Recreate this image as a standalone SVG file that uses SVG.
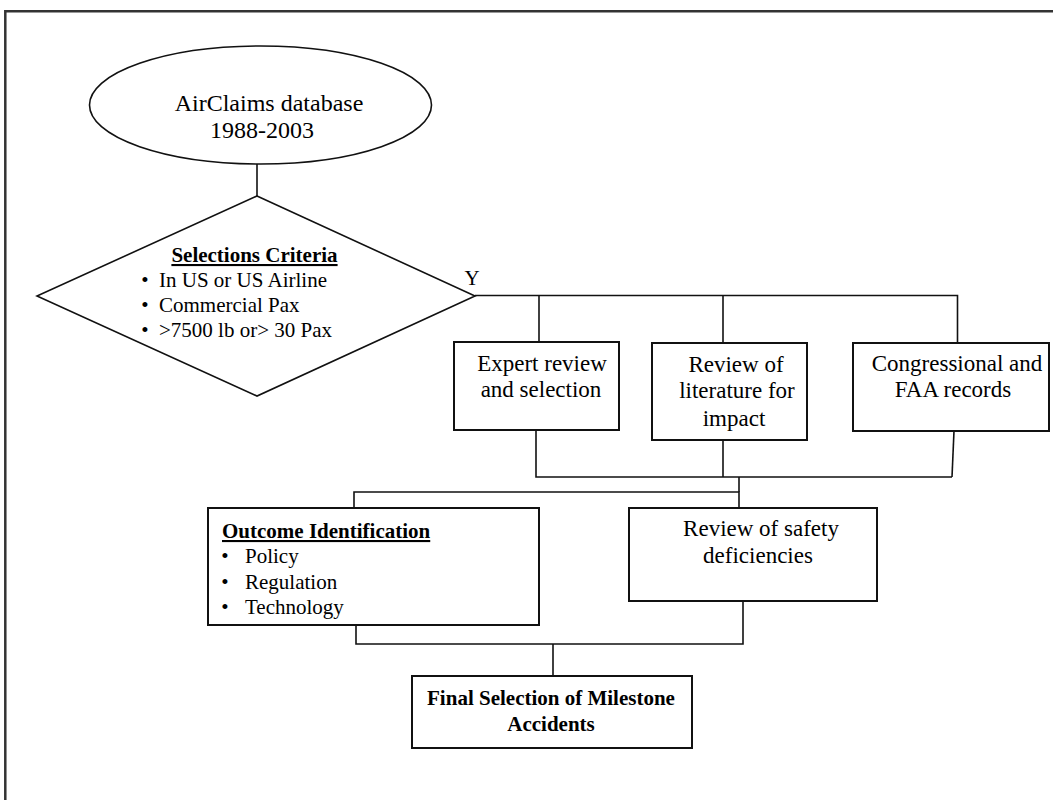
<svg xmlns="http://www.w3.org/2000/svg" width="1053" height="800" viewBox="0 0 1053 800">
  <style>
    text { font-family: "Liberation Serif", "Times New Roman", serif; fill: #000; }
    .t23 { font-size: 23px; }
    .t24 { font-size: 24px; }
    .t21 { font-size: 21px; }
    .b { font-weight: bold; }
    .u { text-decoration: underline; }
    .box { fill: #fff; stroke: #111; stroke-width: 2; }
    .shape { fill: #fff; stroke: #111; stroke-width: 1.6; }
    .conn { fill: none; stroke: #111; stroke-width: 1.6; }
    .frame { fill: none; stroke: #333; stroke-width: 2.5; }
  </style>

  <rect width="1053" height="800" fill="#fff"/>
  <path class="frame" d="M5.3,800 V11.3 H1053"/>

  <g id="connectors">
    <path class="conn" d="M257,164 V196"/>
    <path class="conn" d="M475,295.5 H957.5 V343"/>
    <path class="conn" d="M539,295.5 V342"/>
    <path class="conn" d="M723,295.5 V343"/>
    <path class="conn" d="M536,430 V477 H952"/>
    <path class="conn" d="M723,440 V477"/>
    <path class="conn" d="M954,431 L952,477"/>
    <path class="conn" d="M739,477 V492"/>
    <path class="conn" d="M354,508 V492 H739 V508"/>
    <path class="conn" d="M356,625 V644 H743 V601"/>
    <path class="conn" d="M553,644 V676"/>
  </g>

  <g id="airclaims">
    <ellipse class="shape" cx="260.5" cy="105" rx="171" ry="59"/>
    <text class="t24" x="269" y="111" text-anchor="middle">AirClaims database</text>
    <text class="t24" x="262" y="138" text-anchor="middle">1988-2003</text>
  </g>

  <g id="selection-criteria">
    <polygon class="shape" points="257,196 475,296 257,396 37,296"/>
    <text class="t21 b u" x="254.5" y="262" text-anchor="middle">Selections Criteria</text>
    <text class="t21" x="145" y="287" text-anchor="middle">•</text>
    <text class="t21" x="159" y="287">In US or US Airline</text>
    <text class="t21" x="145" y="312" text-anchor="middle">•</text>
    <text class="t21" x="159" y="312">Commercial Pax</text>
    <text class="t21" x="145" y="337" text-anchor="middle">•</text>
    <text class="t21" x="159" y="337">&gt;7500 lb or&gt; 30 Pax</text>
    <text class="t21" x="472" y="285" text-anchor="middle">Y</text>
  </g>

  <g id="expert-review">
    <rect class="box" x="454" y="342" width="165" height="88"/>
    <text class="t23" x="542" y="371" text-anchor="middle">Expert review</text>
    <text class="t23" x="541" y="397" text-anchor="middle">and selection</text>
  </g>

  <g id="literature-review">
    <rect class="box" x="652" y="343" width="155" height="97"/>
    <text class="t23" x="736" y="372" text-anchor="middle">Review of</text>
    <text class="t23" x="737" y="398" text-anchor="middle">literature for</text>
    <text class="t23" x="734" y="426" text-anchor="middle">impact</text>
  </g>

  <g id="congressional">
    <rect class="box" x="853" y="343" width="196" height="88"/>
    <text class="t23" x="957" y="371" text-anchor="middle">Congressional and</text>
    <text class="t23" x="953" y="397" text-anchor="middle">FAA records</text>
  </g>

  <g id="outcome-identification">
    <rect class="box" x="208" y="508" width="331" height="117"/>
    <text class="t21 b u" x="222" y="538">Outcome Identification</text>
    <text class="t21" x="225" y="563" text-anchor="middle">•</text>
    <text class="t21" x="245" y="563">Policy</text>
    <text class="t21" x="225" y="589" text-anchor="middle">•</text>
    <text class="t21" x="245" y="589">Regulation</text>
    <text class="t21" x="225" y="614" text-anchor="middle">•</text>
    <text class="t21" x="245" y="614">Technology</text>
  </g>

  <g id="safety-deficiencies">
    <rect class="box" x="629" y="508" width="248" height="93"/>
    <text class="t23" x="761" y="536" text-anchor="middle">Review of safety</text>
    <text class="t23" x="758" y="563" text-anchor="middle">deficiencies</text>
  </g>

  <g id="final-selection">
    <rect class="box" x="412" y="676" width="280" height="72"/>
    <text class="t21 b" x="551" y="705" text-anchor="middle">Final Selection of Milestone</text>
    <text class="t21 b" x="551" y="731" text-anchor="middle">Accidents</text>
  </g>
</svg>
